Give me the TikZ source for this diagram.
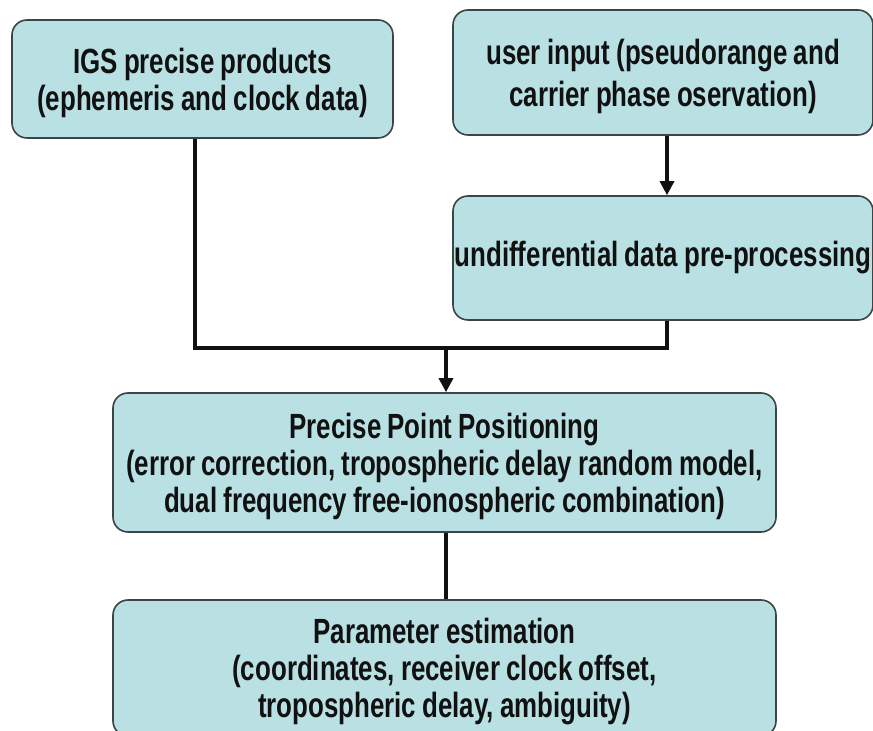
\documentclass[tikz,border=0pt]{standalone}
\usepackage{fontspec}
\setmainfont{Liberation Sans}[FakeStretch=0.74, WordSpace=0.85]
\usepackage{xcolor}
\usepackage{tikz}
\usetikzlibrary{
    arrows.meta,
    positioning,
    calc
}
\definecolor{ink}     {HTML}{111111}
\definecolor{frame}   {HTML}{3C4446}
\definecolor{boxfill} {HTML}{B9E0E3}

\begin{document}
\begin{tikzpicture}[
    x=0.5pt, y=-0.5pt,
    line cap=butt, line join=miter,
    >={Triangle[length=7pt, width=7pt]},
    %% --- semantic styles ---
    stagebox/.style  = {rectangle, draw=frame, fill=boxfill, line width=0.8pt,
                        rounded corners=7.5pt, inner xsep=0pt, inner ysep=2pt,
                        align=center, text=ink,
                        font=\fontsize{17.5pt}{18.5pt}\selectfont\bfseries},
    multibox/.style  = {stagebox, text depth=0pt},
    flow/.style      = {draw=ink, line width=1.8pt},
    flowarrow/.style = {->, draw=ink, line width=1.6pt}
]
\clip (0,0) rectangle (873,731);

%% =====================================================
%% INPUTS
%% =====================================================
\node[multibox, minimum width=190.5pt, minimum height=59pt] (IGS)
    at (202.5, 79)
    {IGS precise products\\(ephemeris and clock data)};
\node[multibox, minimum width=210pt, minimum height=62.5pt] (USR)
    at (663, 72.5)
    {user input (pseudorange and\\[2.5pt]carrier phase oservation)};

%% =====================================================
%% Pre-processing
%% =====================================================
\node[stagebox, minimum width=210pt, minimum height=62pt] (PREP)
    at (663, 258)
    {undifferential data pre-processing};
\draw[flowarrow] ([xshift=2pt]USR.south) -- ([xshift=2pt]PREP.north);

%% =====================================================
%% PPP and estimation
%% =====================================================
\node[multibox, minimum width=331.5pt, minimum height=69.5pt] (PPP)
    at (444.5, 462.5)
    {Precise Point Positioning\\
     (error correction, tropospheric delay random model,\\
     dual frequency free-ionospheric combination)};
\node[multibox, minimum width=331.5pt, minimum height=68pt] (EST)
    at (444.5, 668)
    {Parameter estimation\\
     (coordinates, receiver clock offset,\\
     tropospheric delay, ambiguity)};

% merge both inputs into one arrow
\coordinate (MERGE) at (446, 348);
\draw[flow] ([xshift=-3.75pt]IGS.south) |- (MERGE) -| ([xshift=2pt]PREP.south);
\draw[flowarrow] (MERGE) -- (MERGE |- PPP.north);
\draw[flow] ([xshift=0.75pt]PPP.south) -- ([xshift=0.75pt]EST.north);

\end{tikzpicture}
\end{document}
